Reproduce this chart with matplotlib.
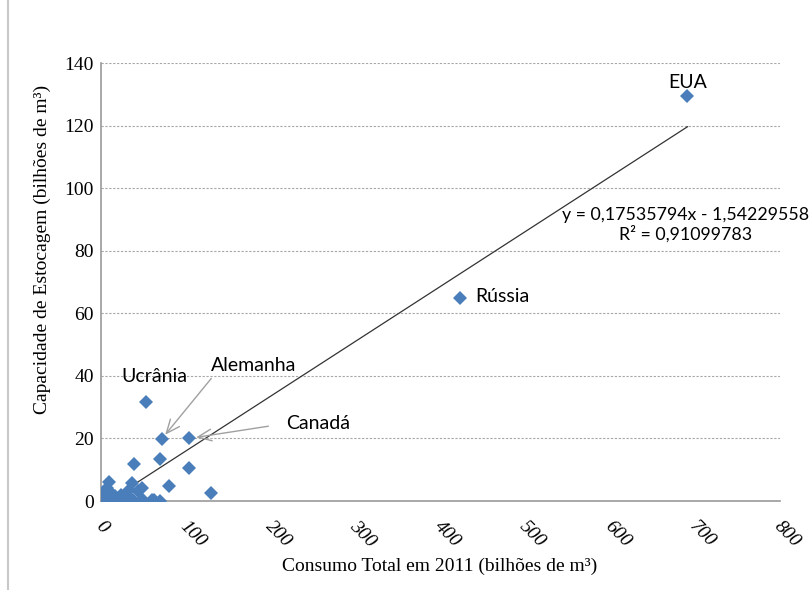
import matplotlib
matplotlib.use("Agg")
import matplotlib.pyplot as plt
from matplotlib.lines import Line2D
from matplotlib.transforms import ScaledTranslation

# dados (bilhões de m³)
consumo = [691, 423, 52.7, 71.5, 104, 70, 104, 39, 80, 130,
           37, 48, 44, 33, 9, 7, 5, 11, 1, 3,
           0, 2, 6, 9, 14, 17, 21, 23, 26, 29,
           33, 38, 48, 50, 60, 62, 70, 12, 4, 19]
estocagem = [129.4, 65.0, 31.7, 19.8, 20.0, 13.3, 10.4, 11.8, 4.8, 2.5,
             5.8, 4.1, 3.2, 3.6, 6.2, 4.3, 3.3, 3.0, 2.0, 1.2,
             0.0, 0.0, 0.5, 0.0, 0.8, 1.5, 0.3, 1.9, 0.5, 0.0,
             0.8, 0.3, 0.3, 0.3, 0.3, 0.2, 0.1, 1.0, 0.4, 0.5]

inclinacao = 0.17535794
intercepto = -1.54229558
r2 = 0.91099783

x_ticks = [0, 100, 200, 300, 400, 500, 600, 700, 800]
y_ticks = [0, 20, 40, 60, 80, 100, 120, 140]

serif = "Liberation Serif"
sans = "Lato"

fig = plt.figure(figsize=(8.12, 5.9), dpi=100)
ax = fig.add_axes([101 / 812, 1 - 501 / 590, 679 / 812, 438 / 590])

ax.plot(consumo, estocagem, linestyle="none", marker="D", markersize=7,
        color="#4a7ebb", markeredgewidth=0, zorder=3)

x0, x1 = min(consumo), max(consumo)
ax.plot([x0, x1], [inclinacao * x0 + intercepto, inclinacao * x1 + intercepto],
        color="#333333", lw=0.9, zorder=2)

ax.set_xlim(0, 800)
ax.set_ylim(0, 140)
ax.set_xticks(x_ticks)
ax.set_yticks(y_ticks)
ax.yaxis.grid(True, linestyle=(0, (2, 1.5)), color="#a6a6a6", lw=0.8)
ax.set_axisbelow(True)
for s in ["top", "right"]:
    ax.spines[s].set_visible(False)
for s in ["left", "bottom"]:
    ax.spines[s].set_color("#9a9a9a")
    ax.spines[s].set_linewidth(1.2)
ax.tick_params(length=0)
ax.tick_params(axis="y", pad=5)
ax.tick_params(axis="x", pad=12)

for lab in ax.get_yticklabels():
    lab.set_fontfamily(serif)
    lab.set_fontsize(14)
offset = ScaledTranslation(3 / 100, 0, fig.dpi_scale_trans)
for lab in ax.get_xticklabels():
    lab.set_fontfamily(serif)
    lab.set_fontstyle("italic")
    lab.set_fontsize(14)
    lab.set_rotation(-45)
    lab.set_ha("left")
    lab.set_va("top")
    lab.set_rotation_mode("anchor")
    lab.set_transform(lab.get_transform() + offset)

fig.text(440 / 812, 1 - 566 / 590, "Consumo Total em 2011 (bilhões de m³)",
         fontfamily=serif, fontsize=14, ha="center", va="center")
fig.text(42 / 812, 1 - 249 / 590, "Capacidade de Estocagem (bilhões de m³)",
         fontfamily=serif, fontsize=14, ha="center", va="center", rotation=90)

lbl = dict(fontfamily=sans, fontsize=14, textcoords="offset pixels", va="center")
ax.annotate("EUA", (consumo[0], estocagem[0]), xytext=(0, 14), ha="center", **lbl)
ax.annotate("Rússia", (consumo[1], estocagem[1]), xytext=(15, 1), ha="left", **lbl)
ax.annotate("Ucrânia", (consumo[2], estocagem[2]), xytext=(9, 25), ha="center", **lbl)
seta = dict(arrowstyle="->,head_length=0.7,head_width=0.3", color="#a0a0a0", lw=1)
ax.annotate("Alemanha", (consumo[3], estocagem[3]), xytext=(92, 74), ha="center",
            arrowprops=dict(seta, relpos=(0.05, 0), shrinkA=2, shrinkB=4), **lbl)
ax.annotate("Canadá", (consumo[4], estocagem[4]), xytext=(129, 15), ha="center",
            arrowprops=dict(seta, relpos=(0, 0.5), shrinkA=11, shrinkB=5), **lbl)

eq = f"y = {inclinacao:.8f}x - {abs(intercepto):.8f}\nR² = {r2:.8f}".replace(".", ",")
fig.text(686 / 812, 1 - 225 / 590, eq, fontfamily=sans, fontsize=12.8,
         ha="center", va="center", multialignment="center", linespacing=1.15)

fig.add_artist(Line2D([8 / 812, 8 / 812], [0, 1], color="#c8c8c8", lw=1.5))

fig.savefig("out.png", dpi=100)
